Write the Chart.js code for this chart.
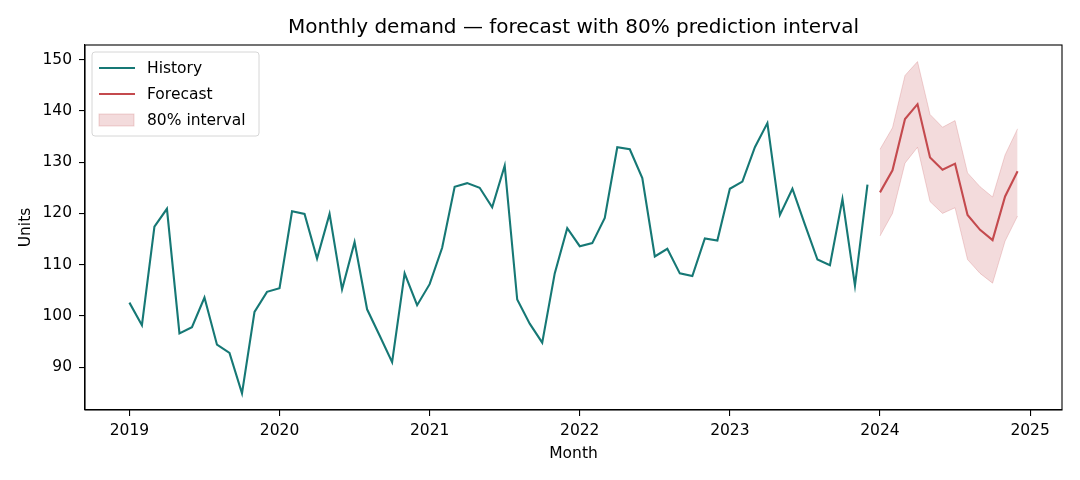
<!DOCTYPE html>
<html>
<head>
<meta charset="utf-8">
<title>Monthly demand forecast</title>
<script src="https://cdn.jsdelivr.net/npm/chart.js@4.4.1/dist/chart.umd.min.js"></script>
<style>
html, body { margin: 0; padding: 0; background: #fff; }
#chart { display: block; }
</style>
</head>
<body>
<canvas id="chart" width="1080" height="480"></canvas>
<script>
// monthly history, Jan 2019 .. Dec 2023
var historyStart = 2019;
var historyValues = [
    102.6, 98.2, 117.4, 120.9, 96.6, 97.8, 103.6, 94.4, 92.8, 84.9, 100.8, 104.7,
    105.4, 120.4, 119.9, 111.2, 119.9, 105.2, 114.4, 101.3, 96.2, 91.0, 108.3, 102.1,
    106.2, 113.3, 125.2, 125.9, 125.0, 121.2, 129.3, 103.2, 98.5, 94.8, 108.3, 117.1,
    113.6, 114.2, 119.1, 132.9, 132.5, 126.9, 111.6, 113.1, 108.3, 107.8, 115.1, 114.7,
    124.8, 126.2, 132.9, 137.6, 119.7, 124.8, 117.8, 111.0, 109.9, 122.8, 105.9, 125.6
];
// forecast, Jan 2024 .. Dec 2024
var forecastStart = 2024;
var forecastValues = [124.1, 128.4, 138.4, 141.3, 130.9, 128.5, 129.7, 119.7, 116.8, 114.8, 123.3, 128.2];
var intervalUpper = [132.5, 136.7, 146.9, 149.6, 139.3, 136.8, 138.1, 127.9, 125.2, 123.2, 131.4, 136.5];
var intervalLower = [115.6, 120.0, 129.8, 132.9, 122.3, 120.0, 121.1, 111.0, 108.3, 106.4, 114.6, 119.5];

var yearTicks = [2019, 2020, 2021, 2022, 2023, 2024, 2025];
var unitTicks = [90, 100, 110, 120, 130, 140, 150];

var titleText = 'Monthly demand \u2014 forecast with 80% prediction interval';
var teal = '#167875';
var red = '#c44a4e';
var bandFill = 'rgba(196, 74, 78, 0.2)';
var bandEdge = 'rgba(196, 74, 78, 0.22)';
var fontFamily = '"DejaVu Sans", Verdana, sans-serif';
var textSize = 15.5;

function toPoints(start, values) {
    return values.map(function(v, i) {
        return { x: start + i / 12, y: v };
    });
}

// matplotlib style 5% margins around the data
var xLo = historyStart, xHi = forecastStart + 11 / 12;
var allY = historyValues.concat(intervalUpper, intervalLower);
var yLo = Math.min.apply(null, allY), yHi = Math.max.apply(null, allY);
var xPad = (xHi - xLo) * 0.05, yPad = (yHi - yLo) * 0.05;

// frame on all four sides + title centred over the plot area
var framePlugin = {
    id: 'frame',
    afterDatasetsDraw: function(chart) {
        var a = chart.chartArea, ctx = chart.ctx;
        ctx.save();
        ctx.strokeStyle = '#000';
        ctx.lineWidth = 1.1;
        ctx.strokeRect(a.left, a.top, a.right - a.left, a.bottom - a.top);
        ctx.fillStyle = '#000';
        ctx.font = '20px ' + fontFamily;
        ctx.textAlign = 'center';
        ctx.textBaseline = 'middle';
        ctx.fillText(titleText, (a.left + a.right) / 2, 28);
        ctx.restore();
    }
};

var legendPlugin = {
    id: 'boxLegend',
    afterDraw: function(chart) {
        var ctx = chart.ctx, a = chart.chartArea;
        var sets = chart.data.datasets;
        var x = a.left + 7, y = a.top + 7, w = 167, h = 84, r = 3;
        ctx.save();
        ctx.beginPath();
        ctx.moveTo(x + r, y);
        ctx.lineTo(x + w - r, y);
        ctx.arcTo(x + w, y, x + w, y + r, r);
        ctx.lineTo(x + w, y + h - r);
        ctx.arcTo(x + w, y + h, x + w - r, y + h, r);
        ctx.lineTo(x + r, y + h);
        ctx.arcTo(x, y + h, x, y + h - r, r);
        ctx.lineTo(x, y + r);
        ctx.arcTo(x, y, x + r, y, r);
        ctx.closePath();
        ctx.fillStyle = 'rgba(255,255,255,0.8)';
        ctx.fill();
        ctx.strokeStyle = '#d6d6d6';
        ctx.lineWidth = 1;
        ctx.stroke();

        var items = [
            { label: sets[1].label, kind: 'line', color: sets[1].borderColor },
            { label: sets[0].label, kind: 'line', color: sets[0].borderColor },
            { label: sets[2].label, kind: 'patch', color: sets[2].backgroundColor }
        ];
        ctx.font = textSize + 'px ' + fontFamily;
        ctx.textBaseline = 'middle';
        ctx.textAlign = 'left';
        items.forEach(function(it, i) {
            var cy = y + 16 + i * 26;
            if (it.kind === 'line') {
                ctx.strokeStyle = it.color;
                ctx.lineWidth = 2;
                ctx.beginPath();
                ctx.moveTo(x + 7, cy);
                ctx.lineTo(x + 43, cy);
                ctx.stroke();
            } else {
                ctx.fillStyle = it.color;
                ctx.fillRect(x + 7, cy - 6, 35, 12);
                ctx.strokeStyle = bandEdge;
                ctx.lineWidth = 1;
                ctx.strokeRect(x + 7, cy - 6, 35, 12);
            }
            ctx.fillStyle = '#000';
            ctx.fillText(it.label, x + 55, cy + 1);
        });
        ctx.restore();
    }
};

var ctx = document.getElementById('chart');
var chart = new Chart(ctx, {
    type: 'line',
    data: {
        datasets: [{
            label: 'Forecast',
            data: toPoints(forecastStart, forecastValues),
            borderColor: red,
            borderWidth: 2.1,
            pointRadius: 0,
            fill: false
        }, {
            label: 'History',
            data: toPoints(historyStart, historyValues),
            borderColor: teal,
            borderWidth: 2.1,
            pointRadius: 0,
            fill: false
        }, {
            label: '80% interval',
            data: toPoints(forecastStart, intervalUpper),
            borderColor: bandEdge,
            backgroundColor: bandFill,
            borderWidth: 1,
            pointRadius: 0,
            fill: '+1'
        }, {
            label: 'lower',
            data: toPoints(forecastStart, intervalLower),
            borderColor: bandEdge,
            borderWidth: 1,
            pointRadius: 0,
            fill: false
        }]
    },
    options: {
        responsive: false,
        animation: false,
        devicePixelRatio: 1,
        events: [],
        layout: {
            padding: { left: 0, right: 18, top: 45, bottom: 0 }
        },
        elements: {
            line: { tension: 0 }
        },
        scales: {
            x: {
                type: 'linear',
                min: xLo - xPad,
                max: xHi + xPad,
                afterBuildTicks: function(axis) {
                    axis.ticks = yearTicks.map(function(v) { return { value: v }; });
                },
                afterFit: function(axis) { axis.height = 70; },
                ticks: {
                    color: '#000',
                    padding: 6,
                    maxRotation: 0,
                    font: { family: fontFamily, size: textSize },
                    callback: function(v) { return String(v); }
                },
                grid: {
                    drawOnChartArea: false,
                    drawTicks: true,
                    tickLength: 6,
                    color: '#000',
                    lineWidth: 1.1
                },
                border: { display: true, color: '#000', width: 1.1 },
                title: {
                    display: true,
                    text: 'Month',
                    color: '#000',
                    font: { family: fontFamily, size: textSize },
                    padding: { top: 0, bottom: 17 }
                }
            },
            y: {
                type: 'linear',
                min: yLo - yPad,
                max: yHi + yPad,
                afterBuildTicks: function(axis) {
                    axis.ticks = unitTicks.map(function(v) { return { value: v }; });
                },
                afterFit: function(axis) { axis.width = 85; },
                ticks: {
                    color: '#000',
                    padding: 7,
                    font: { family: fontFamily, size: textSize },
                    callback: function(v) { return String(v); }
                },
                grid: {
                    drawOnChartArea: false,
                    drawTicks: true,
                    tickLength: 6,
                    color: '#000',
                    lineWidth: 1.1
                },
                border: { display: true, color: '#000', width: 1.1 },
                title: {
                    display: true,
                    text: 'Units',
                    color: '#000',
                    font: { family: fontFamily, size: textSize },
                    padding: { top: 17, bottom: 0 }
                }
            }
        },
        plugins: {
            legend: { display: false },
            tooltip: { enabled: false },
            title: { display: false }
        }
    },
    plugins: [framePlugin, legendPlugin]
});
</script>
</body>
</html>
